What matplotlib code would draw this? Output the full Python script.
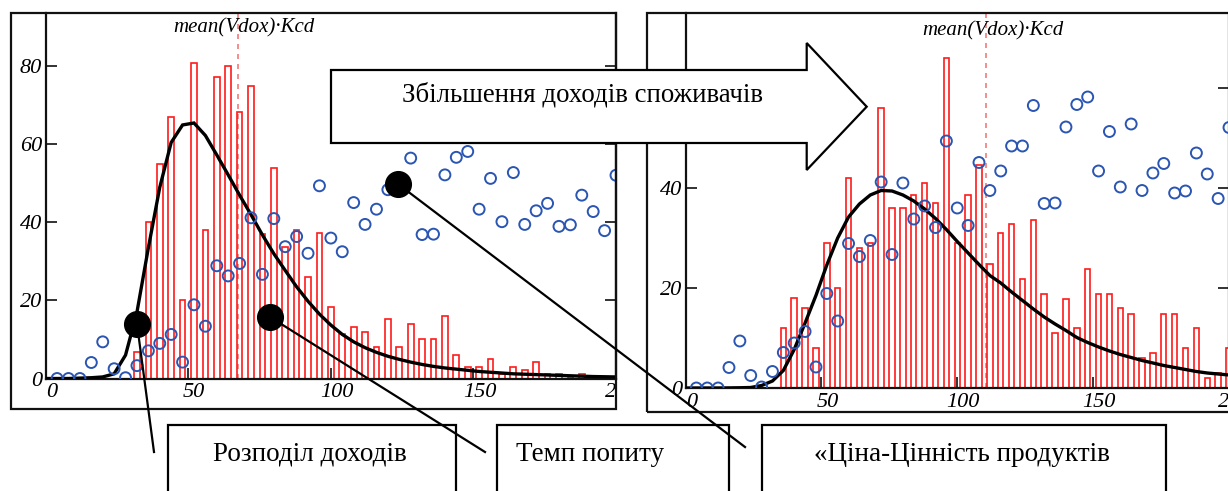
import matplotlib
matplotlib.use('Agg')
import matplotlib.pyplot as plt
from matplotlib.patches import Rectangle, Polygon
from matplotlib.lines import Line2D
from matplotlib.transforms import ScaledTranslation

# ---------------- data ----------------
left_bar_x = [32, 36, 40, 44, 48, 52, 56, 60, 64, 68, 72, 76, 80, 84, 88, 92, 96,
              100, 104, 108, 112, 116, 120, 124, 128, 132, 136, 140, 144, 148, 152,
              156, 160, 164, 168, 172, 176, 180, 184, 188, 192, 196]
left_bar_h = [6.8, 40, 55, 67, 20, 81, 38, 77.3, 80, 68.3, 75, 37, 54, 33.6, 38, 25.9, 37.2,
              18.3, 11.3, 13.2, 11.8, 8.2, 15.2, 8.2, 14, 10.2, 10.2, 16, 6.1, 2.9, 2.9,
              5, 1.1, 2.9, 2.2, 4.2, 1.1, 1.1, 0.5, 1.1, 0.3, 0.3]

right_bar_x = [36, 40, 44, 48, 52, 56, 60, 64, 68, 72, 76, 80, 84, 88, 92, 96,
               100, 104, 108, 112, 116, 120, 124, 128, 132, 136, 140, 144, 148, 152,
               156, 160, 164, 168, 172, 176, 180, 184, 188, 192, 196, 200]
right_bar_h = [12, 18, 16, 8, 29, 20, 42, 28, 29, 56, 36, 36, 38.7, 41, 37, 66,
               29, 38.7, 44.7, 24.8, 31, 32.8, 21.9, 33.7, 18.8, 11, 17.9, 12, 23.8, 18.8,
               18.8, 16, 14.8, 6.1, 7, 14.8, 14.8, 8, 12, 2, 3, 8]

# "price-value" points (same in both panels)
pts_x = [4, 8, 12, 16, 20, 24, 28, 32, 36, 40, 44, 48, 52, 56, 60, 64, 68, 72, 76, 80,
         84, 88, 92, 96, 100, 104, 108, 112, 116, 120, 124, 128, 132, 136, 140, 144,
         148, 152, 156, 160, 164, 168, 172, 176, 180, 184, 188, 192, 196, 200]
pts_y = [0, 0, 0, 4.1, 9.4, 2.5, 0.2, 3.3, 7.1, 9, 11.3, 4.2, 18.9, 13.4, 28.9, 26.3,
         29.5, 41.2, 26.7, 41, 33.8, 36.4, 32.1, 49.4, 36, 32.5, 45.1, 39.5, 43.4, 48.4,
         48.4, 56.5, 36.9, 37, 52.2, 56.7, 58.2, 43.4, 51.3, 40.2, 52.8, 39.5, 43, 44.9,
         39, 39.4, 47, 42.8, 37.9, 52.1]

curve_x = [0, 4, 8, 12, 16, 20, 24, 28, 32, 36, 40, 44, 48, 52, 56, 60, 64, 68, 72, 76,
           80, 84, 88, 92, 96, 100, 104, 108, 112, 116, 120, 124, 128, 132, 136, 140,
           144, 148, 152, 156, 160, 164, 168, 172, 176, 180, 184, 188, 192, 196, 200]
left_curve_y = [0, 0, 0, 0.1, 0.2, 0.4, 1.2, 6, 17, 33.5, 49, 60.5, 65, 65.5, 62.3, 57.3,
                52.2, 47, 42, 36.8, 32, 27.7, 23.5, 19.8, 16.5, 13.7, 11.3, 9.4, 7.9, 6.7,
                5.7, 4.9, 4.2, 3.6, 3.1, 2.7, 2.4, 2.1, 1.8, 1.6, 1.4, 1.2, 1.1, 1.0, 0.9,
                0.8, 0.7, 0.6, 0.5, 0.45, 0.4]
right_curve_y = [0, 0, 0, 0, 0.02, 0.05, 0.1, 0.5, 1.4, 3.5, 7.7, 13, 18.5, 24.6, 30, 34.2,
                 36.8, 38.6, 39.5, 39.4, 38.6, 37.4, 35.8, 33.9, 31.7, 29.3, 27, 24.7, 22.5,
                 21, 19.2, 17.5, 15.8, 14.2, 12.8, 11.5, 10.1, 9.1, 8.2, 7.4, 6.7, 6.1, 5.5,
                 5, 4.5, 4.1, 3.7, 3.3, 3, 2.8, 2.6]

left_mean = 67.5
right_mean = 110.5

x_ticks = [0, 50, 100, 150, 200]
left_y_ticks = [0, 20, 40, 60, 80]
right_y_ticks = [0, 20, 40, 60]

mean_label = "mean(Vdox)·Kcd"
arrow_label = "Збільшення доходів споживачів"
box_labels = ["Розподіл доходів", "Темп попиту", "«Ціна-Цінність продуктів"]

# ---------------- figure ----------------
W, H = 1228, 491
fig = plt.figure(figsize=(W / 100, H / 100), dpi=100)
SERIF = ['Liberation Serif', 'DejaVu Serif']


def fx(x):
    return x / W


def fy(y):
    return 1 - y / H


BAR_RED = '#ff1a1a'
CIRC_BLUE = '#2a55b2'
MEAN_RED = '#f27a7a'


def make_panel(rect_px, bar_x, bar_h, curve_y, mean_x, ytop, yticks):
    l, r, t, b = rect_px
    ax = fig.add_axes([fx(l), fy(b), fx(r) - fx(l), fy(t) - fy(b)])
    ax.set_facecolor('none')
    ax.set_xlim(0, 200)
    ax.set_ylim(0, ytop)
    ax.axvline(mean_x, color=MEAN_RED, lw=1.2, ls=(0, (3, 3)), zorder=1)
    ax.bar(bar_x, bar_h, width=2.0, facecolor='none', edgecolor=BAR_RED,
           linewidth=1.2, zorder=2)
    ax.plot(curve_x, curve_y, color='black', lw=2.4, zorder=3, solid_joinstyle='miter')
    ax.scatter(pts_x, pts_y, s=62, facecolors='none', edgecolors=CIRC_BLUE,
               linewidths=1.4, zorder=4)
    ax.set_xticks(x_ticks)
    ax.set_yticks(yticks)
    ax.tick_params(direction='in', length=8, width=1.3, right=True, top=False,
                   labelsize=16, pad=3.5, color='#222222')
    ax.tick_params(axis='y', pad=2.5)
    shift = ScaledTranslation(6 / 100, 0, fig.dpi_scale_trans)
    for lbl in ax.get_xticklabels():
        lbl.set_transform(lbl.get_transform() + shift)
    for lbl in ax.get_xticklabels() + ax.get_yticklabels():
        lbl.set_fontfamily(SERIF)
        lbl.set_fontstyle('italic')
    for side in ['left', 'bottom', 'right']:
        ax.spines[side].set_linewidth(1.6)
        ax.spines[side].set_color('#111111')
    ax.spines['top'].set_visible(False)
    return ax


axL = make_panel((45.7, 616, 13, 378.5), left_bar_x, left_bar_h, left_curve_y,
                 left_mean, 93.7, left_y_ticks)
axR = make_panel((685.5, 1229, 13, 388), right_bar_x, right_bar_h, right_curve_y,
                 right_mean, 75.0, right_y_ticks)

T = fig.transFigure


def rect_px(x0, y0, x1, y1, **kw):
    return Rectangle((fx(x0), fy(y1)), fx(x1) - fx(x0), fy(y0) - fy(y1),
                     transform=T, **kw)


# gap between panels (clips the overflowing "200" label)
fig.add_artist(rect_px(617.5, 379.5, 646, 407.5, fc='white', ec='none', zorder=1.2))
# outer frames
fig.add_artist(rect_px(11, 13, 616, 409, fill=False, lw=1.6, ec='#111111', zorder=1.3))
fig.add_artist(rect_px(647, 13, 1250, 412, fill=False, lw=1.6, ec='#111111', zorder=1.3))

# mean labels
fig.text(fx(173), fy(28), mean_label, fontsize=15, fontstyle='italic',
         family=SERIF, ha='left', va='center', zorder=2)
fig.text(fx(922), fy(31), mean_label, fontsize=15, fontstyle='italic',
         family=SERIF, ha='left', va='center', zorder=2)

# big arrow
arrow_pts = [(331, 70), (806.7, 70), (806.7, 43), (866.7, 106.7), (806.7, 170),
             (806.7, 143), (331, 143)]
fig.add_artist(Polygon([(fx(x), fy(y)) for x, y in arrow_pts], closed=True,
                       fc='white', ec='black', lw=1.6, transform=T, zorder=3))
fig.text(fx(583), fy(101.5), arrow_label, fontsize=19.4, family=SERIF,
         ha='center', va='baseline', zorder=4)

# bottom label boxes
boxes = [(168, 456), (497, 729), (762, 1166)]
centers = [310, 590, 962]
for (x0, x1), c, lab in zip(boxes, centers, box_labels):
    fig.add_artist(rect_px(x0, 425, x1, 520, fill=True, fc='white', lw=1.6,
                           ec='black', zorder=3))
    fig.text(fx(c), fy(461), lab, fontsize=19.5, family=SERIF, ha='center',
             va='baseline', zorder=4)

# pointer dots and leader lines
dots = [(137, 324), (270, 317), (398, 184)]
ends = [(154, 452), (485, 452), (745, 447)]
for (x0, y0), (x1, y1) in zip(dots, ends):
    fig.add_artist(Line2D([fx(x0), fx(x1)], [fy(y0), fy(y1)], color='black', lw=1.6,
                          transform=T, zorder=5))
    fig.add_artist(Line2D([fx(x0)], [fy(y0)], marker='o', ms=18.5, color='black',
                          transform=T, zorder=6))

fig.savefig('out.png', dpi=100, facecolor='white')
